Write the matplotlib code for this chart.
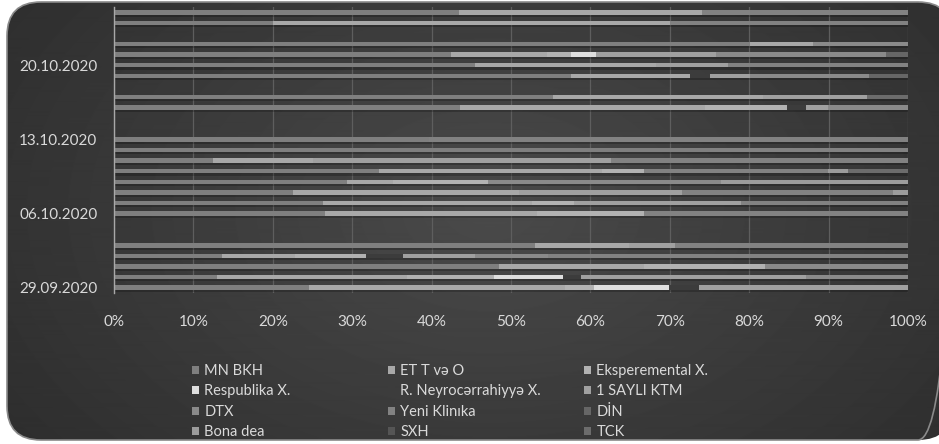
import datetime as dt

import matplotlib.pyplot as plt
import matplotlib.dates as mdates
import numpy as np
from matplotlib.patches import FancyBboxPatch
from matplotlib.ticker import FuncFormatter

plt.rcParams['font.family'] = ['Lato', 'DejaVu Sans']

dates = ['29.09.2020', '30.09.2020', '01.10.2020', '02.10.2020', '03.10.2020',
         '06.10.2020', '07.10.2020', '08.10.2020', '09.10.2020', '10.10.2020',
         '11.10.2020', '12.10.2020', '13.10.2020', '16.10.2020', '17.10.2020',
         '19.10.2020', '20.10.2020', '21.10.2020', '22.10.2020', '24.10.2020',
         '25.10.2020']
tick_dates = ['29.09.2020', '06.10.2020', '13.10.2020', '20.10.2020']

labels = ['MN BKH', 'ET T və O', 'Eksperemental X.', 'Respublika X.',
          'R. Neyrocərrahiyyə X.', '1 SAYLI KTM', 'DTX', 'Yeni Klinıka',
          'DİN', 'Bona dea', 'SXH', 'TCK']
colors = ['#7f7f7f', '#a8a8a8', '#b2b2b2', '#dedede', '#3c3c3c', '#a0a0a0',
          '#8a8a8a', '#828282', '#666666', '#9c9c9c', '#555555', '#6c6c6c']

mn_bkh = [24.6, 13.0, 48.5, 13.6, 53.0, 26.6, 26.3, 22.5, 29.4, 33.4, 12.5,
          75.1, 39.7, 43.6, 55.3, 57.6, 45.5, 42.4, 80.1, 20.0, 43.5]
et_t_o = [32.2, 23.9, 18.3, 9.2, 11.8, 26.7, 26.4, 28.5, 5.8, 28.1, 12.5,
          0, 0, 30.8, 26.4, 14.9, 22.8, 12.1, 7.9, 50.0, 30.5]
eksperemental = [3.7, 11.0, 15.2, 9.0, 0, 13.5, 5.2, 0, 11.9, 5.3, 0,
                 0, 0, 10.3, 0, 0, 0, 3.1, 0, 0, 0]
respublika = [9.4, 8.7, 0, 0, 0, 0, 0, 0, 0, 0, 0,
              0, 0, 0, 0, 0, 0, 3.1, 0, 0, 0]
neyro = [3.8, 2.2, 0, 4.6, 0, 0, 0, 0, 0, 0, 0,
         0, 0, 2.5, 0, 2.6, 0, 0, 0, 0, 0]
ktm_1 = [26.3, 28.4, 0, 9.1, 5.9, 0, 21.1, 20.5, 0, 0, 37.6,
         0, 0, 2.7, 13.1, 5.0, 9.0, 15.1, 0, 0, 0]
dtx = [0, 12.8, 18.0, 9.1, 0, 0, 0, 0, 29.4, 0, 0,
       0, 0, 10.1, 0, 15.0, 0, 21.4, 12.0, 0, 0]
yeni_klinika = [0, 0, 0, 45.4, 29.3, 33.2, 21.0, 26.6, 0, 23.1, 37.4,
                24.9, 60.3, 0, 0, 0, 22.7, 0, 0, 30.0, 26.0]
din = [0, 0, 0, 0, 0, 0, 0, 0, 0, 0, 0,
       0, 0, 0, 0, 4.9, 0, 2.8, 0, 0, 0]
bona_dea = [0, 0, 0, 0, 0, 0, 0, 1.9, 23.5, 2.6, 0,
            0, 0, 0, 0, 0, 0, 0, 0, 0, 0]
sxh = [0, 0, 0, 0, 0, 0, 0, 0, 0, 0, 0,
       0, 0, 0, 0, 0, 0, 0, 0, 0, 0]
tck = [0, 0, 0, 0, 0, 0, 0, 0, 0, 7.5, 0,
       0, 0, 0, 5.2, 0, 0, 0, 0, 0, 0]

series = [mn_bkh, et_t_o, eksperemental, respublika, neyro, ktm_1, dtx,
          yeni_klinika, din, bona_dea, sxh, tck]


def to_num(s):
    return mdates.date2num(dt.datetime.strptime(s, '%d.%m.%Y'))


W, H = 939, 444
fig = plt.figure(figsize=(W / 100, H / 100), dpi=100)
fig.patch.set_facecolor('white')

# dark rounded background with soft radial gradient
bg = fig.add_axes([0, 0, 1, 1], zorder=0)
bg.set_xlim(0, W)
bg.set_ylim(H, 0)
bg.axis('off')
frame = FancyBboxPatch((7, 2), 945, 438, boxstyle='round,pad=0,rounding_size=34',
                       facecolor='none', edgecolor='#8a8a8a', linewidth=1.2)
bg.add_patch(frame)
xx, yy = np.meshgrid(np.arange(W), np.arange(H))
r = np.hypot((xx - 490) / 640, (yy - 210) / 430)
shade = np.clip(0.29 - 0.12 * r, 0.16, 0.3)
img = bg.imshow(shade, cmap='gray', vmin=0, vmax=1, extent=(0, W, H, 0),
                aspect='auto', interpolation='bilinear')
img.set_clip_path(frame)

ax = fig.add_axes([114 / W, 1 - 293 / H, 794 / W, 286 / H], zorder=1)
ax.set_facecolor('none')

y = np.array([to_num(d) for d in dates])
data = np.array(series, dtype=float)
totals = data.sum(axis=0)
data = data / totals * 100

# faint shadow under each bar
ax.barh(y - 0.3, data.sum(axis=0), height=0.22, color='black', alpha=0.22,
        linewidth=0, zorder=2)

left = np.zeros(len(dates))
handles = []
for vals, lab, col in zip(data, labels, colors):
    h = ax.barh(y, vals, left=left, height=0.42, color=col, label=lab,
                linewidth=0, zorder=3)
    handles.append(h)
    left += vals

ax.set_xlim(0, 100)
ax.set_ylim(to_num(dates[0]) - 0.5, to_num(dates[-1]) + 0.5)
ax.set_xticks(np.arange(0, 101, 10))
ax.xaxis.set_major_formatter(FuncFormatter(lambda v, p: f'{v:.0f}%'))
ax.set_yticks([to_num(d) for d in tick_dates])
ax.set_yticklabels(tick_dates)
ax.tick_params(axis='both', length=0, colors='#d9d9d9', labelsize=11)
ax.tick_params(axis='x', pad=16)
ax.tick_params(axis='y', pad=12)
ax.grid(axis='x', color='#5e5e5e', linewidth=0.9, zorder=0)
ax.set_axisbelow(True)
for side in ['top', 'right', 'bottom']:
    ax.spines[side].set_visible(False)
ax.spines['left'].set_color('#a8a8a8')
ax.spines['left'].set_linewidth(1.0)
ax.spines['left'].set_zorder(4)

# legend: three columns, series in row-major order
col_x = [192, 388, 584]
for i, x0 in enumerate(col_x):
    leg = fig.legend(handles=handles[i::3], loc='upper left',
                     bbox_to_anchor=(x0 / W, 1 - 364 / H), frameon=False,
                     fontsize=10.5, labelcolor='#dadada', handlelength=0.45,
                     handleheight=0.45, handletextpad=0.4, labelspacing=0.44,
                     borderpad=0, borderaxespad=0)

fig.savefig('out.png', dpi=100, facecolor='white')
